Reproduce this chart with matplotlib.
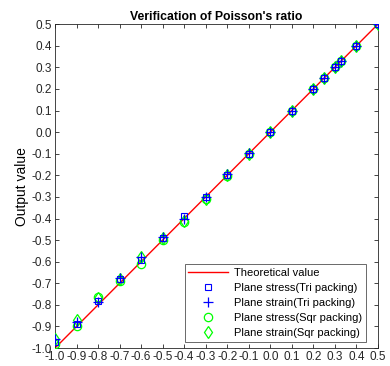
import matplotlib
matplotlib.use("Agg")
import matplotlib.pyplot as plt
import numpy as np

plt.rcParams['font.family'] = ['Liberation Sans', 'DejaVu Sans']

# Prescribed Poisson's ratio values
nu_input = [-1.0, -0.9, -0.8, -0.7, -0.6, -0.5, -0.4, -0.3, -0.2, -0.1,
            0.0, 0.1, 0.2, 0.25, 0.3, 0.33, 0.4, 0.5]

# Measured values for each model
stress_tri = [-0.97, -0.89, -0.78, -0.68, -0.59, -0.49, -0.39, -0.30, -0.20, -0.10,
              0.0, 0.1, 0.2, 0.25, 0.3, 0.33, 0.4, 0.5]
strain_tri = [-0.96, -0.88, -0.785, -0.675, -0.58, -0.485, -0.40, -0.30, -0.195, -0.095,
              0.0, 0.1, 0.2, 0.25, 0.3, 0.33, 0.4, 0.5]
stress_sqr = [-0.98, -0.90, -0.765, -0.69, -0.61, -0.50, -0.415, -0.31, -0.205, -0.10,
              0.0, 0.1, 0.2, 0.25, 0.3, 0.33, 0.4, 0.5]
strain_sqr = [-0.96, -0.87, -0.77, -0.68, -0.58, -0.49, -0.41, -0.31, -0.20, -0.10,
              0.0, 0.1, 0.2, 0.25, 0.3, 0.33, 0.4, 0.5]

theory_x = [-1.0, 0.5]
tick_vals = [round(-1.0 + 0.1 * i, 1) for i in range(16)]
tick_labels = [f"{v:.1f}" for v in tick_vals]

fig = plt.figure(figsize=(3.9, 3.66), dpi=100)
ax = fig.add_axes([0.141, 0.049, 0.828, 0.885])

ax.plot(theory_x, theory_x, color='#ff0000', lw=1.0, label='Theoretical value', zorder=2)
ax.plot(nu_input, stress_tri, ls='none', marker='s', ms=5, mfc='none', mec='#0000ff',
        mew=0.8, label='Plane stress(Tri packing)', zorder=4)
ax.plot(nu_input, strain_tri, ls='none', marker='+', ms=7, color='#0000ff',
        mew=0.9, label='Plane strain(Tri packing)', zorder=5)
ax.plot(nu_input, stress_sqr, ls='none', marker='o', ms=6, mfc='none', mec='#00ff00',
        mew=0.9, label='Plane stress(Sqr packing)', zorder=3)
ax.plot(nu_input, strain_sqr, ls='none', marker='d', ms=6, mfc='none', mec='#00ff00',
        mew=0.9, label='Plane strain(Sqr packing)', zorder=3)

ax.set_xlim(-1.0, 0.5)
ax.set_ylim(-1.0, 0.5)
ax.set_xticks(tick_vals)
ax.set_xticklabels(tick_labels)
ax.set_yticks(tick_vals)
ax.set_yticklabels(tick_labels)
ax.tick_params(direction='in', top=True, right=True, length=3, width=0.6,
               labelsize=8.5, colors='#262626', pad=2)
for s in ax.spines.values():
    s.set_color('#262626')
    s.set_linewidth(0.6)

ax.set_title("Verification of Poisson's ratio", fontsize=8.8, fontweight='bold', pad=3)
ax.set_ylabel('Output value', fontsize=10, labelpad=2)

leg = ax.legend(loc='lower right', bbox_to_anchor=(0.963, 0.0185), fontsize=8,
                frameon=True, fancybox=False, edgecolor='#262626', borderaxespad=0.0,
                handlelength=3.6, handletextpad=0.5, labelspacing=0.45, borderpad=0.35)
leg.get_frame().set_linewidth(0.6)

fig.savefig('out.png', dpi=100)
